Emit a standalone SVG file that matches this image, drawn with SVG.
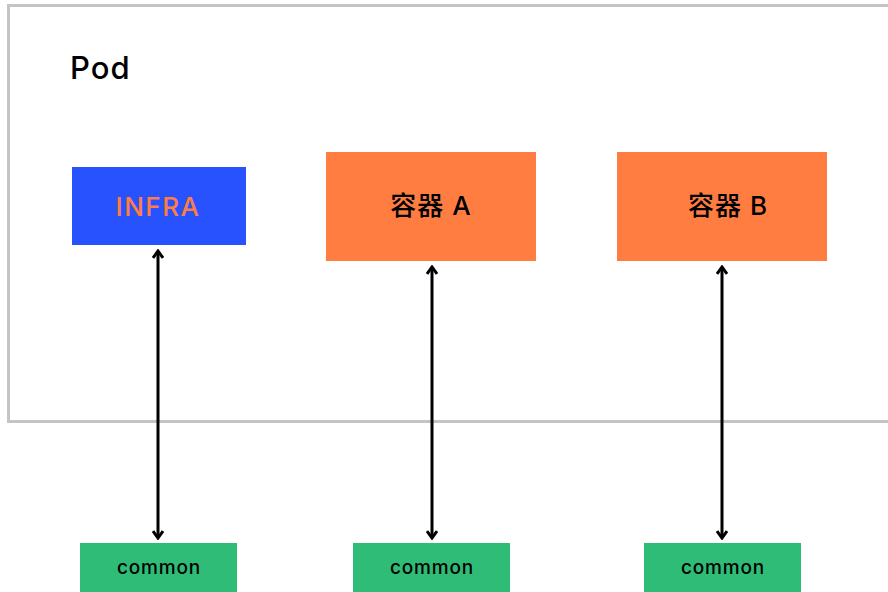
<svg xmlns="http://www.w3.org/2000/svg" width="888" height="592" viewBox="0 0 888 592">
<style>
.t{font-family:Inter,"Noto Sans","Noto Sans CJK SC",sans-serif;}
.lbl{font-size:26px;font-weight:500;text-anchor:middle;dominant-baseline:central;}
.cm{font-size:19px;font-weight:500;letter-spacing:0.8px;text-anchor:middle;dominant-baseline:central;fill:#000;}
.box{fill:#FF7D40;}
.green{fill:#2FBC76;}
.conn{stroke:#000;stroke-width:3;fill:none;marker-start:url(#ah);marker-end:url(#ah);}
</style>
<defs>
<marker id="ah" viewBox="0 0 12 12" refX="10" refY="6" markerWidth="12" markerHeight="12" markerUnits="userSpaceOnUse" orient="auto-start-reverse">
<path d="M3,1 L10,6 L3,11" fill="none" stroke="#000" stroke-width="3"/>
</marker>
</defs>
<rect width="888" height="592" fill="#fff"/>
<g id="pod">
<rect x="8.5" y="5.5" width="890" height="416" fill="none" stroke="#C4C4C4" stroke-width="3"/>
<text class="t" x="70" y="79" font-size="31" font-weight="500" letter-spacing="1" fill="#000">Pod</text>
</g>
<g id="infra">
<rect x="72" y="167" width="174" height="78" fill="#2952FF"/>
<text class="t lbl" x="158" y="206" fill="#FF7D40" font-size="27" letter-spacing="1.5">INFRA</text>
</g>
<g id="containerA">
<rect class="box" x="326" y="152" width="210" height="109"/>
<text class="t lbl" x="431" y="205" fill="#000" letter-spacing="1">容器 A</text>
</g>
<g id="containerB">
<rect class="box" x="617" y="152" width="210" height="109"/>
<text class="t lbl" x="728" y="205" fill="#000" letter-spacing="1">容器 B</text>
</g>
<g id="common1">
<rect class="green" x="80" y="543" width="157" height="50"/>
<text class="t cm" x="159" y="567">common</text>
</g>
<g id="common2">
<rect class="green" x="353" y="543" width="157" height="50"/>
<text class="t cm" x="432" y="567">common</text>
</g>
<g id="common3">
<rect class="green" x="644" y="543" width="157" height="50"/>
<text class="t cm" x="723" y="567">common</text>
</g>
<g id="connectors">
<line class="conn" x1="158" y1="251" x2="158" y2="538"/>
<line class="conn" x1="432" y1="267" x2="432" y2="538"/>
<line class="conn" x1="722" y1="267" x2="722" y2="538"/>
</g>
</svg>
